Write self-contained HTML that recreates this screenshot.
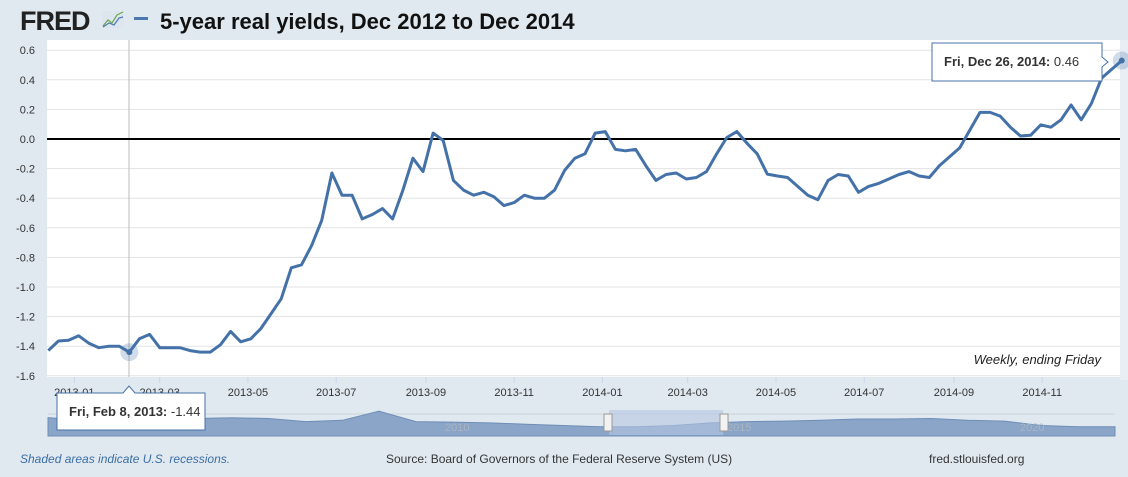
<!DOCTYPE html>
<html><head><meta charset="utf-8">
<style>
html,body{margin:0;padding:0;background:#e1e9f0;width:1128px;height:477px;overflow:hidden;font-family:"Liberation Sans",sans-serif;}
svg text{font-family:"Liberation Sans",sans-serif;}
</style></head>
<body>
<svg id="chart" width="1128" height="477" viewBox="0 0 1128 477" xmlns="http://www.w3.org/2000/svg">
  <rect x="0" y="0" width="1128" height="477" fill="#e1e9f0"/>
  <g>
    <text x="20" y="30" font-size="27" font-weight="bold" fill="#222" letter-spacing="-1">FRED</text>
    <g>
      <rect x="102" y="11" width="22" height="17" fill="#dde6ee"/>
      <polyline points="103,26 108,20 112,23 117,15 123,12" fill="none" stroke="#6aa84f" stroke-width="1.2"/>
      <polyline points="103,27 109,23 114,25 119,18 123,17" fill="none" stroke="#4a78b0" stroke-width="1.2"/>
    </g>
    <rect x="134" y="17" width="14" height="3" fill="#4a78b0"/>
    <text x="160" y="29" font-size="22" font-weight="bold" fill="#111">5-year real yields, Dec 2012 to Dec 2014</text>
  </g>
  <rect x="47" y="40" width="1073" height="337" fill="#ffffff"/>
  <rect x="1120" y="40" width="8" height="340" fill="#e8eef4"/>
  <g id="grid"></g>
  <g id="yaxis"></g>
  <g id="xaxis"></g>
  <line x1="129" y1="40" x2="129" y2="377" stroke="#bbb" stroke-width="1"/>
  <line id="zeroline" x1="47" x2="1120" stroke="#000" stroke-width="2"/>
  <path id="series" fill="none" stroke="#4472a8" stroke-width="3" stroke-linejoin="round"/>
  <g id="markers"></g>
  <text x="1101" y="364" font-size="13" font-style="italic" fill="#222" text-anchor="end">Weekly, ending Friday</text>

  <g>
    <line x1="48" y1="414" x2="1115" y2="414" stroke="#ccd3da" stroke-width="1"/>
    <path id="navarea" fill="#8aa5c8" stroke="#6f8db6" stroke-width="1"/>
    <rect x="609" y="410" width="114" height="25" fill="#b5c7e2" fill-opacity="0.6"/>
    <text x="445" y="431" font-size="11" fill="#a9b5c2">2010</text>
    <text x="727" y="431" font-size="11" fill="#a9b5c2">2015</text>
    <text x="1020" y="431" font-size="11" fill="#a9b5c2">2020</text>
    <rect x="604" y="414" width="8" height="17" fill="#f2f2f2" stroke="#999"/>
    <rect x="720" y="414" width="8" height="17" fill="#f2f2f2" stroke="#999"/>
  </g>

  <g>
    <path d="M57,393 L123,393 L129,386 L135,393 L205,393 L205,430 L57,430 Z" fill="#fff" stroke="#4472a8" stroke-width="1"/>
    <text x="69" y="416" font-size="13" fill="#333"><tspan font-weight="bold">Fri, Feb 8, 2013:</tspan> -1.44</text>
  </g>
  <g>
    <path d="M932,43 L1102,43 L1102,57 L1108,62 L1102,67 L1102,81 L932,81 Z" fill="#fff" stroke="#4472a8" stroke-width="1"/>
    <text x="944" y="66" font-size="13" fill="#333"><tspan font-weight="bold">Fri, Dec 26, 2014:</tspan> 0.46</text>
  </g>

  <text x="20" y="463" font-size="12" font-style="italic" fill="#3a6ea5">Shaded areas indicate U.S. recessions.</text>
  <text x="386" y="463" font-size="12" fill="#333">Source: Board of Governors of the Federal Reserve System (US)</text>
  <text x="929" y="463" font-size="12" fill="#333">fred.stlouisfed.org</text>
</svg>
<script>
const startDate = "2012-12-14";
const values = [-1.43,-1.365,-1.36,-1.33,-1.38,-1.41,-1.40,-1.40,-1.44,-1.35,-1.32,-1.41,-1.41,-1.41,-1.43,-1.44,-1.44,-1.39,-1.30,-1.37,-1.35,-1.28,-1.18,-1.08,-0.87,-0.85,-0.72,-0.55,-0.23,-0.38,-0.38,-0.54,-0.51,-0.47,-0.54,-0.35,-0.13,-0.22,0.04,-0.01,-0.28,-0.345,-0.38,-0.36,-0.39,-0.45,-0.43,-0.38,-0.40,-0.40,-0.345,-0.21,-0.13,-0.10,0.04,0.05,-0.07,-0.08,-0.07,-0.18,-0.28,-0.24,-0.23,-0.27,-0.26,-0.22,-0.10,0.01,0.05,-0.03,-0.10,-0.237,-0.25,-0.26,-0.32,-0.38,-0.41,-0.28,-0.24,-0.25,-0.36,-0.32,-0.30,-0.27,-0.24,-0.22,-0.25,-0.26,-0.18,-0.12,-0.06,0.06,0.18,0.18,0.155,0.08,0.02,0.025,0.095,0.08,0.13,0.23,0.13,0.24,0.41,0.47,0.53];
const yTicks = [0.6,0.4,0.2,0.0,-0.2,-0.4,-0.6,-0.8,-1.0,-1.2,-1.4,-1.6];
const xTickDates = ["2013-01-01","2013-03-01","2013-05-01","2013-07-01","2013-09-01","2013-11-01","2014-01-01","2014-03-01","2014-05-01","2014-07-01","2014-09-01","2014-11-01"];
const xTickLabels = ["2013-01","2013-03","2013-05","2013-07","2013-09","2013-11","2014-01","2014-03","2014-05","2014-07","2014-09","2014-11"];
const navValues = [-0.45,-0.55,-0.5,-0.5,-0.48,-0.45,-0.48,-0.6,-0.55,-0.2,-0.6,-0.62,-0.65,-0.7,-0.75,-0.8,-0.8,-0.75,-0.65,-0.6,-0.58,-0.55,-0.5,-0.5,-0.48,-0.55,-0.58,-0.75,-0.8,-0.8];

const NS = "http://www.w3.org/2000/svg";
const day0 = Date.parse(startDate);
const pxPerDay = 1.4467, x0 = 48.3;
function xDate(ms){ return x0 + (ms - day0)/86400000*pxPerDay; }
function xIdx(i){ return x0 + i*7*pxPerDay; }
function y(v){ return 139 - v*148; }

const grid = document.getElementById('grid');
const yax = document.getElementById('yaxis');
yTicks.forEach(function(t){
  const l = document.createElementNS(NS,'line');
  l.setAttribute('x1',47); l.setAttribute('x2',1120);
  l.setAttribute('y1',y(t)); l.setAttribute('y2',y(t));
  l.setAttribute('stroke','#e3e3e3');
  
  
  grid.appendChild(l);
  const tx = document.createElementNS(NS,'text');
  tx.setAttribute('x',35); tx.setAttribute('y',y(t)+4);
  tx.setAttribute('text-anchor','end'); tx.setAttribute('font-size','11'); tx.setAttribute('fill','#333');
  tx.textContent = t.toFixed(1);
  
  
  yax.appendChild(tx);
});
const xax = document.getElementById('xaxis');
xTickDates.forEach(function(d,i){
  const x = xDate(Date.parse(d));
  const l = document.createElementNS(NS,'line');
  l.setAttribute('x1',x); l.setAttribute('x2',x); l.setAttribute('y1',377); l.setAttribute('y2',383);
  l.setAttribute('stroke','#ccd6eb');
  
  
  xax.appendChild(l);
  const tx = document.createElementNS(NS,'text');
  tx.setAttribute('x',x); tx.setAttribute('y',396);
  tx.setAttribute('text-anchor','middle'); tx.setAttribute('font-size','11'); tx.setAttribute('fill','#333');
  tx.textContent = xTickLabels[i];
  
  
  xax.appendChild(tx);
});
const zl = document.getElementById('zeroline');
zl.setAttribute('y1', y(0)); zl.setAttribute('y2', y(0));
document.getElementById('series').setAttribute('d', values.map(function(v,i){ return (i?'L':'M')+xIdx(i).toFixed(1)+','+y(v).toFixed(1); }).join(' '));

const mk = document.getElementById('markers');
[8, values.length-1].forEach(function(i){
  const h = document.createElementNS(NS,'circle');
  h.setAttribute('cx',xIdx(i)); h.setAttribute('cy',y(values[i])); h.setAttribute('r',9);
  h.setAttribute('fill','#4472a8'); h.setAttribute('fill-opacity','0.25');
  
  
  mk.appendChild(h);
  const c = document.createElementNS(NS,'circle');
  c.setAttribute('cx',xIdx(i)); c.setAttribute('cy',y(values[i])); c.setAttribute('r',3);
  c.setAttribute('fill','#4472a8');
  
  
  mk.appendChild(c);
});

// navigator
const nx0 = 48, nx1 = 1115;
function nX(i){ return nx0 + i*(nx1-nx0)/(navValues.length-1); }
function nY(v){ return 406 - v*26; }
let d = 'M'+nx0+',436 ';
navValues.forEach(function(v,i){ d += 'L'+nX(i).toFixed(1)+','+(nY(v)).toFixed(1)+' '; });
d += 'L'+nx1+',436 Z';
document.getElementById('navarea').setAttribute('d', d);
</script>
</body></html>
